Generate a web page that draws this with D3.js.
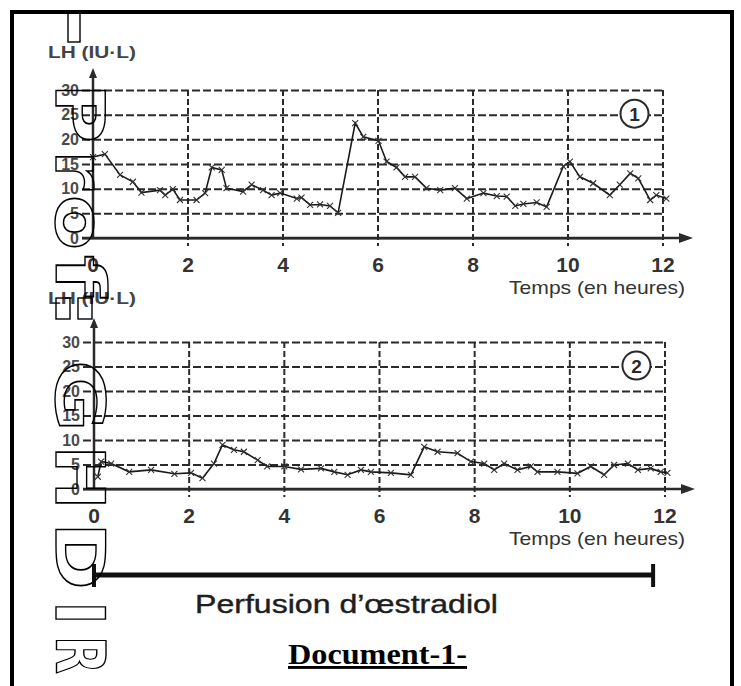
<!DOCTYPE html>
<html>
<head>
<meta charset="utf-8">
<script src="https://cdn.jsdelivr.net/npm/d3@7"></script>
<style>
  body { margin: 0; background: #fff; }
  svg { display: block; }
</style>
</head>
<body>
<div id="canvas"></div>
<script>
// data (hours, LH in IU/L)
const hoursTicks = [0, 2, 4, 6, 8, 10, 12];
const lhTicks = [0, 5, 10, 15, 20, 25, 30];

const timeCtrl = [0, 0.25, 0.57, 0.84, 1.02, 1.41, 1.52, 1.68, 1.83, 2.18, 2.36, 2.5, 2.71, 2.81, 3.16, 3.34, 3.58, 3.76, 3.94, 4.29, 4.39, 4.57, 4.78, 4.99, 5.16, 5.52, 5.69, 6.01, 6.18, 6.39, 6.57, 6.78, 7.02, 7.31, 7.62, 7.87, 8.22, 8.5, 8.71, 8.89, 9.06, 9.34, 9.55, 9.9, 10.04, 10.25, 10.53, 10.88, 11.09, 11.31, 11.48, 11.73, 11.86, 12.07];
const lhCtrl = [16.4, 17, 12.8, 11.4, 9.2, 9.7, 8.7, 9.9, 7.7, 7.7, 9.1, 14.3, 13.8, 10.1, 9.4, 10.8, 9.7, 8.7, 9.1, 8.0, 8.2, 6.7, 6.8, 6.5, 5.1, 23.3, 20.5, 19.7, 15.5, 14.3, 12.4, 12.4, 10.1, 9.7, 10.1, 8.0, 9.1, 8.5, 8.4, 6.5, 6.9, 7.2, 6.3, 14.5, 15.5, 12.4, 11.1, 8.7, 10.8, 13.1, 12.1, 7.7, 8.7, 8.0];

const timeE2 = [0.08, 0.15, 0.36, 0.74, 1.2, 1.69, 2.04, 2.28, 2.52, 2.7, 2.94, 3.15, 3.44, 3.64, 4.0, 4.35, 4.77, 5.05, 5.33, 5.61, 5.82, 6.24, 6.66, 6.94, 7.22, 7.64, 7.92, 8.2, 8.41, 8.62, 8.9, 9.18, 9.32, 9.74, 10.16, 10.44, 10.72, 10.93, 11.22, 11.43, 11.7, 11.91, 12.05];
const lhE2 = [2.5, 5.6, 5.2, 3.5, 3.9, 3.1, 3.3, 2.2, 5.2, 9.0, 8.0, 7.6, 5.9, 4.6, 4.6, 4.0, 4.2, 3.5, 2.9, 3.9, 3.5, 3.3, 2.9, 8.6, 7.6, 7.3, 5.6, 5.2, 3.9, 5.2, 3.9, 4.6, 3.5, 3.5, 3.2, 4.6, 2.9, 4.9, 5.2, 3.9, 4.2, 3.5, 3.3];

const perfusion = [0, 11.75];

const W = 741, H = 686;
const svg = d3.select('#canvas').append('svg')
    .attr('width', W)
    .attr('height', H)
    .attr('viewBox', [0, 0, W, H]);

svg.append('rect')
    .attr('x', 12).attr('y', 12)
    .attr('width', 720).attr('height', 690)
    .attr('fill', '#fff')
    .attr('stroke', '#000')
    .attr('stroke-width', 4);

const ink = '#2a2a2a';

function drawPanel(p) {
    const x = d3.scaleLinear().domain([0, 12]).range([p.x0, p.x1]);
    const y = d3.scaleLinear().domain([0, 30]).range([p.y0, p.y1]);
    const g = svg.append('g');

    // horizontal dashed grid + y labels
    g.append('g')
        .attr('transform', `translate(${p.x0 - 11},0)`)
        .call(d3.axisLeft(y).tickValues(lhTicks).tickSize(-(x(12) - p.x0 + 11)).tickPadding(3))
        .call(a => a.select('.domain').remove())
        .call(a => a.selectAll('line')
            .attr('stroke', ink)
            .attr('stroke-width', 2)
            .attr('stroke-dasharray', d => d === 0 ? null : '8,3'))
        .call(a => a.selectAll('text')
            .attr('fill', '#4a4a4a')
            .attr('font-family', 'Liberation Sans, Arial, sans-serif')
            .attr('font-weight', 'bold')
            .attr('font-size', 16));

    // vertical dashed grid
    g.append('g')
        .selectAll('line')
        .data(hoursTicks.filter(d => d > 0))
        .join('line')
        .attr('x1', d => x(d)).attr('x2', d => x(d))
        .attr('y1', y(30)).attr('y2', y(0) + 8)
        .attr('stroke', ink)
        .attr('stroke-width', 2)
        .attr('stroke-dasharray', '6,3');

    // x labels
    g.append('g')
        .selectAll('text')
        .data(hoursTicks)
        .join('text')
        .attr('x', d => x(d))
        .attr('y', y(0) + 34)
        .attr('text-anchor', 'middle')
        .attr('fill', '#333')
        .attr('font-family', 'Liberation Sans, Arial, sans-serif')
        .attr('font-weight', 'bold')
        .attr('font-size', 21)
        .text(d => d);

    // axes with arrows
    g.append('line')
        .attr('x1', p.x0 - 11).attr('x2', p.x1 + 20)
        .attr('y1', y(0)).attr('y2', y(0))
        .attr('stroke', ink).attr('stroke-width', 2.5);
    g.append('path')
        .attr('d', `M${p.x1 + 30},${y(0)} L${p.x1 + 16},${y(0) - 5} L${p.x1 + 16},${y(0) + 5} Z`)
        .attr('fill', ink);
    g.append('line')
        .attr('x1', p.x0).attr('x2', p.x0)
        .attr('y1', y(0)).attr('y2', p.yTop + 8)
        .attr('stroke', ink).attr('stroke-width', 2.5);
    g.append('path')
        .attr('d', `M${p.x0},${p.yTop} L${p.x0 - 4},${p.yTop + 10} L${p.x0 + 4},${p.yTop + 10} Z`)
        .attr('fill', ink);

    // labels
    g.append('text')
        .attr('x', 48).attr('y', p.yTop - p.labelGap)
        .attr('fill', '#444')
        .attr('font-family', 'Liberation Sans, Arial, sans-serif')
        .attr('font-weight', 'bold')
        .attr('font-size', 17)
        .attr('textLength', 88)
        .attr('lengthAdjust', 'spacingAndGlyphs')
        .text('LH (IU·L)');
    g.append('text')
        .attr('x', 685).attr('y', y(0) + 56)
        .attr('text-anchor', 'end')
        .attr('fill', '#333')
        .attr('font-family', 'Liberation Sans, Arial, sans-serif')
        .attr('font-size', 19)
        .attr('textLength', 176)
        .attr('lengthAdjust', 'spacingAndGlyphs')
        .text('Temps (en heures)');

    // panel number
    g.append('circle')
        .attr('cx', x(11.4)).attr('cy', y(25.2))
        .attr('r', 14)
        .attr('fill', '#fff')
        .attr('stroke', ink).attr('stroke-width', 2);
    g.append('text')
        .attr('x', x(11.4)).attr('y', y(25.2) + 7)
        .attr('text-anchor', 'middle')
        .attr('fill', ink)
        .attr('font-family', 'Liberation Sans, Arial, sans-serif')
        .attr('font-weight', 'bold')
        .attr('font-size', 19)
        .text(p.num);

    // series
    const pts = p.t.map((t, i) => [t, p.v[i]]);
    g.append('path')
        .datum(pts)
        .attr('fill', 'none')
        .attr('stroke', '#1a1a1a')
        .attr('stroke-width', 1.6)
        .attr('d', d3.line().x(d => x(d[0])).y(d => y(d[1])));
    g.append('g')
        .selectAll('path')
        .data(pts)
        .join('path')
        .attr('d', d => {
            const cx = x(d[0]), cy = y(d[1]);
            return `M${cx - 3},${cy - 3}L${cx + 3},${cy + 3}M${cx - 3},${cy + 3}L${cx + 3},${cy - 3}`;
        })
        .attr('stroke', '#333')
        .attr('stroke-width', 1.1);

    return x;
}

drawPanel({ x0: 93, x1: 663, y0: 238, y1: 90, yTop: 68, labelGap: 10, t: timeCtrl, v: lhCtrl, num: '1' });
const xb = drawPanel({ x0: 94, x1: 665, y0: 489, y1: 342, yTop: 318, labelGap: 14, t: timeE2, v: lhE2, num: '2' });

// perfusion bar
const bar = svg.append('g');
bar.append('line')
    .attr('x1', xb(perfusion[0])).attr('x2', xb(perfusion[1]))
    .attr('y1', 575).attr('y2', 575)
    .attr('stroke', '#111').attr('stroke-width', 5);
bar.selectAll('.cap')
    .data(perfusion)
    .join('line')
    .attr('class', 'cap')
    .attr('x1', d => xb(d)).attr('x2', d => xb(d))
    .attr('y1', 564).attr('y2', 587)
    .attr('stroke', '#111').attr('stroke-width', 4);
bar.append('text')
    .attr('x', 195).attr('y', 613)
    .attr('fill', '#1e1e1e')
    .attr('stroke', '#1e1e1e')
    .attr('stroke-width', 0.4)
    .attr('font-family', 'Liberation Sans, Arial, sans-serif')
    .attr('font-size', 25)
    .attr('textLength', 303)
    .attr('lengthAdjust', 'spacingAndGlyphs')
    .text('Perfusion d\u2019\u0153stradiol');

svg.append('text')
    .attr('x', 288).attr('y', 664)
    .attr('fill', '#000')
    .attr('font-family', 'Liberation Serif, Times New Roman, serif')
    .attr('font-weight', 'bold')
    .attr('font-size', 29)
    .attr('textLength', 179)
    .attr('lengthAdjust', 'spacingAndGlyphs')
    .attr('text-decoration', 'underline')
    .text('Document-1-');

// watermark, rotated outline letters
const wmLetters = ['P', 'r', 'o', 'f', 'G', 'H', 'D', 'I', 'R'];
const wmStart = [83, 150, 195, 255, 360, 445, 522, 601, 636];
const wmWidth = [60, 40, 55, 42, 72, 65, 68, 24, 38];
const wm = svg.append('g')
    .attr('transform', 'translate(56,0) rotate(90)');
wm.selectAll('text')
    .data(wmLetters)
    .join('text')
    .attr('x', (d, i) => wmStart[i])
    .attr('y', 0)
    .attr('textLength', (d, i) => wmWidth[i])
    .attr('lengthAdjust', 'spacingAndGlyphs')
    .attr('font-family', 'DejaVu Sans, sans-serif')
    .attr('font-weight', 'bold')
    .attr('font-size', 68)
    .attr('fill', 'none')
    .attr('stroke', '#000')
    .attr('stroke-width', 1.4)
    .text(d => d);

// missing-glyph boxes of the watermark
const boxes = [[68, 13, 12, 29], [56, 298, 14, 21], [78, 298, 14, 21]];
svg.append('g')
    .selectAll('rect')
    .data(boxes)
    .join('rect')
    .attr('x', d => d[0]).attr('y', d => d[1])
    .attr('width', d => d[2]).attr('height', d => d[3])
    .attr('fill', 'none')
    .attr('stroke', '#000')
    .attr('stroke-width', 1.4);
</script>
</body>
</html>
